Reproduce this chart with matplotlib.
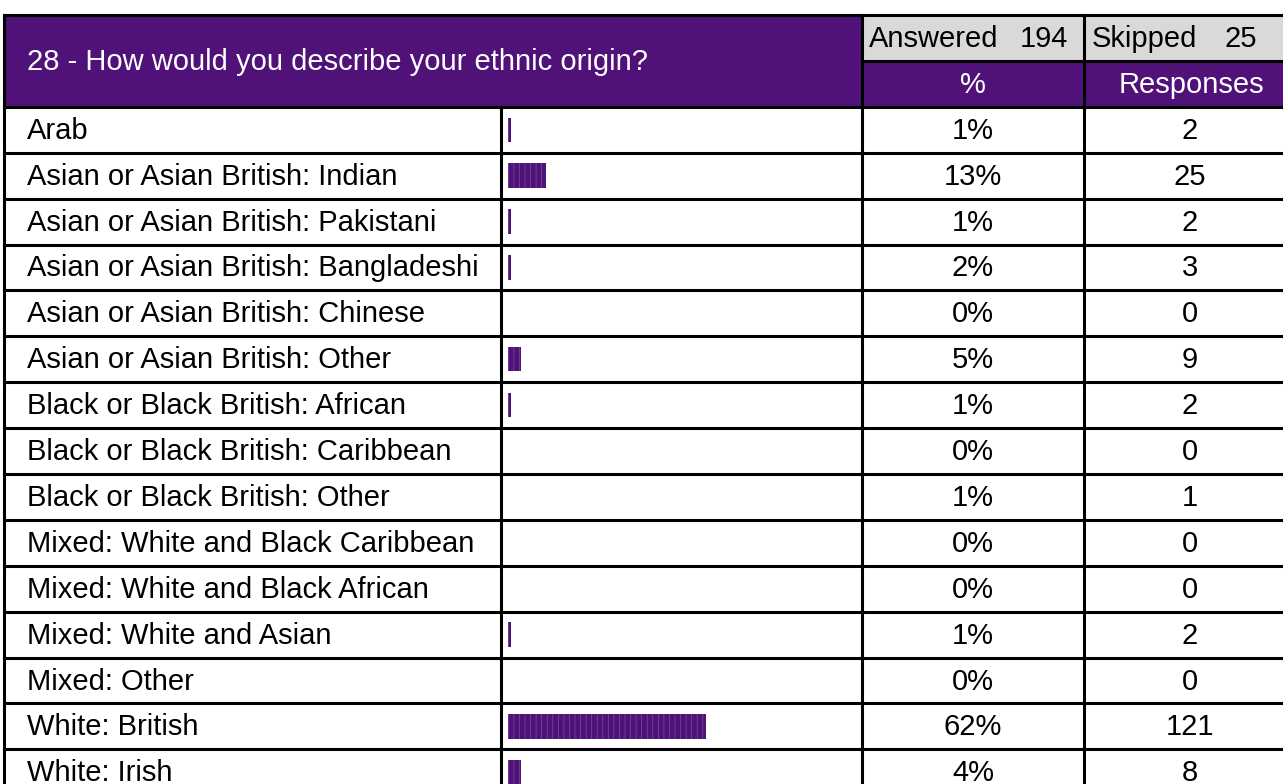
import matplotlib
matplotlib.use("Agg")
import matplotlib.pyplot as plt
from matplotlib.patches import Rectangle

plt.rcParams['font.family'] = ['Liberation Sans', 'DejaVu Sans']
plt.rcParams['hatch.linewidth'] = 0.5

title = "28 - How would you describe your ethnic origin?"
answered = 194
skipped = 25
categories = [
    "Arab",
    "Asian or Asian British: Indian",
    "Asian or Asian British: Pakistani",
    "Asian or Asian British: Bangladeshi",
    "Asian or Asian British: Chinese",
    "Asian or Asian British: Other",
    "Black or Black British: African",
    "Black or Black British: Caribbean",
    "Black or Black British: Other",
    "Mixed: White and Black Caribbean",
    "Mixed: White and Black African",
    "Mixed: White and Asian",
    "Mixed: Other",
    "White: British",
    "White: Irish",
]
pct_labels = ["1%", "13%", "1%", "2%", "0%", "5%", "1%", "0%", "1%", "0%", "0%", "1%", "0%", "62%", "4%"]
responses = [2, 25, 2, 3, 0, 9, 2, 0, 1, 0, 0, 2, 0, 121, 8]
bar_pct = [1, 12, 1, 1, 0, 4, 1, 0, 0, 0, 0, 1, 0, 62, 4]

PURPLE = "#501278"
GRAY = "#D9D9D9"
W, H = 1283, 784
fig = plt.figure(figsize=(W / 100, H / 100), dpi=100)
ax = fig.add_axes([0, 0, 1, 1])
ax.set_xlim(0, W)
ax.set_ylim(H, 0)
ax.axis("off")

# layout (pixels)
x0, x1, x2, x3, x4 = 4, 501, 862, 1084, 1296
top = 15
rh = 45.9
hdr1 = top + rh
hdr2 = top + 2 * rh
n = len(categories)
bottom = hdr2 + n * rh
FS = 21

# header fills
ax.add_patch(Rectangle((x0, top), x2 - x0, hdr2 - top, color=PURPLE, lw=0))
ax.add_patch(Rectangle((x2, top), x4 - x2, hdr1 - top, color=GRAY, lw=0))
ax.add_patch(Rectangle((x2, hdr1), x4 - x2, hdr2 - hdr1, color=PURPLE, lw=0))

ax.text(x0 + 23, (top + hdr2) / 2 + 1, title, color="white", fontsize=FS, va="center", ha="left")
ax.text(x2 + 7, (top + hdr1) / 2 + 1, "Answered", fontsize=FS, va="center", ha="left")
ax.text(x3 - 16, (top + hdr1) / 2 + 1, str(answered), fontsize=FS, va="center", ha="right")
ax.text(x3 + 8, (top + hdr1) / 2 + 1, "Skipped", fontsize=FS, va="center", ha="left")
ax.text(x4 - 39, (top + hdr1) / 2 + 1, str(skipped), fontsize=FS, va="center", ha="right")
ax.text((x2 + x3) / 2, (hdr1 + hdr2) / 2 + 1, "%", color="white", fontsize=FS, va="center", ha="center")
ax.text((x3 + x4) / 2 + 1, (hdr1 + hdr2) / 2 + 1, "Responses", color="white", fontsize=FS, va="center", ha="center")

for i, (cat, p, r) in enumerate(zip(categories, pct_labels, responses)):
    yc = hdr2 + (i + 0.5) * rh + 1
    ax.text(x0 + 23, yc, cat, fontsize=FS, va="center", ha="left")
    ax.text((x2 + x3) / 2, yc, p, fontsize=FS, va="center", ha="center")
    ax.text((x3 + x4) / 2, yc, str(r), fontsize=FS, va="center", ha="center")

# grid lines
LW = 2.2
ax.plot([x0, x4], [top, top], color="black", lw=LW, solid_capstyle="projecting")
ax.plot([x2, x4], [hdr1, hdr1], color="black", lw=LW)
for i in range(n + 1):
    y = hdr2 + i * rh
    ax.plot([x0, x4], [y, y], color="black", lw=LW)
ax.plot([x0, x0], [top, bottom], color="black", lw=LW)
ax.plot([x1, x1], [hdr2, bottom], color="black", lw=LW)
ax.plot([x2, x2], [top, bottom], color="black", lw=LW)
ax.plot([x3, x3], [top, bottom], color="black", lw=LW)

# bar axes: 100% spans 320 px starting at x=508
bx0, bw = 508, 320
bax = fig.add_axes([bx0 / W, 1 - bottom / H, bw / W, (bottom - hdr2) / H])
bax.set_xlim(0, 100)
bax.set_ylim(n - 0.5, -0.5)
bax.axis("off")
bax.patch.set_alpha(0)
bax.barh(range(n), bar_pct, height=0.53, left=0, color=PURPLE,
         edgecolor="#7a4e9a", hatch="|||", linewidth=0)

fig.savefig("out.png", dpi=100)
